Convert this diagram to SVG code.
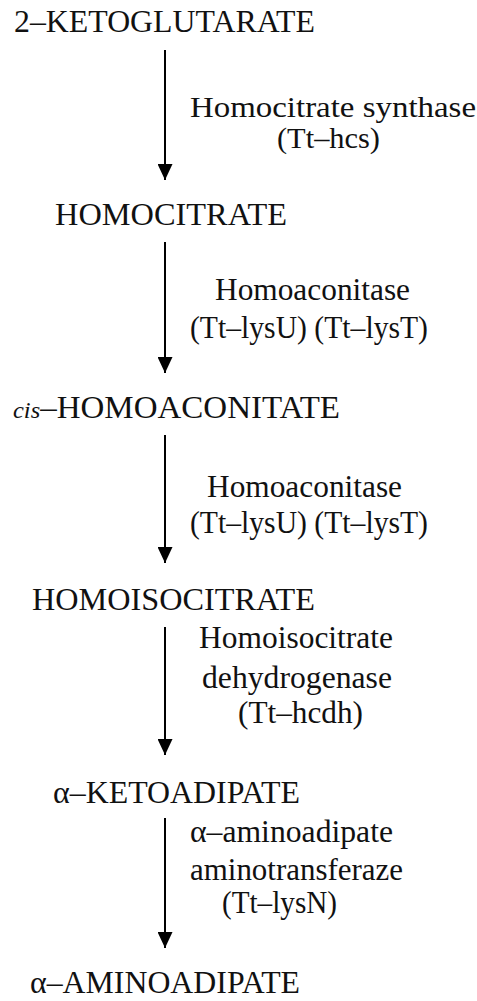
<svg xmlns="http://www.w3.org/2000/svg" width="477" height="1001" viewBox="0 0 477 1001">
<style>
.t{fill:#111}
.c line{stroke:#000;stroke-width:2}
</style>
<defs>
<marker id="ah" viewBox="0 0 16 15" refX="16" refY="7.5" markerWidth="16" markerHeight="15" markerUnits="userSpaceOnUse" orient="auto"><path d="M0,0L16,7.5L0,15Z" fill="#000"/></marker>
</defs>
<rect width="477" height="1001" fill="#fff"/>
<g class="t" font-family="Liberation Serif" font-size="31">
<g id="n1"><text x="14" y="32" textLength="301" lengthAdjust="spacingAndGlyphs">2–KETOGLUTARATE</text></g>
<g id="n2"><text x="55" y="225" textLength="232" lengthAdjust="spacingAndGlyphs">HOMOCITRATE</text></g>
<g id="n3"><text x="13" y="418" textLength="327" lengthAdjust="spacingAndGlyphs"><tspan font-style="italic" font-size="23">cis</tspan>–HOMOACONITATE</text></g>
<g id="n4"><text x="32" y="610" textLength="283" lengthAdjust="spacingAndGlyphs">HOMOISOCITRATE</text></g>
<g id="n5"><text x="53" y="803" textLength="247" lengthAdjust="spacingAndGlyphs">α–KETOADIPATE</text></g>
<g id="n6"><text x="30" y="993" textLength="270" lengthAdjust="spacingAndGlyphs">α–AMINOADIPATE</text></g>
<g id="e1" font-size="29"><text x="190" y="117" textLength="286" lengthAdjust="spacingAndGlyphs">Homocitrate synthase</text><text x="277" y="148" textLength="103" lengthAdjust="spacingAndGlyphs">(Tt–hcs)</text></g>
<g id="e2"><text x="215" y="300" textLength="195" lengthAdjust="spacingAndGlyphs">Homoaconitase</text><text x="190" y="338" textLength="238" lengthAdjust="spacingAndGlyphs">(Tt–lysU) (Tt–lysT)</text></g>
<g id="e3"><text x="207" y="497" textLength="195" lengthAdjust="spacingAndGlyphs">Homoaconitase</text><text x="190" y="533" textLength="238" lengthAdjust="spacingAndGlyphs">(Tt–lysU) (Tt–lysT)</text></g>
<g id="e4"><text x="199" y="648" textLength="194" lengthAdjust="spacingAndGlyphs">Homoisocitrate</text><text x="202" y="688" textLength="190" lengthAdjust="spacingAndGlyphs">dehydrogenase</text><text x="238" y="723" textLength="125" lengthAdjust="spacingAndGlyphs">(Tt–hcdh)</text></g>
<g id="e5"><text x="190" y="842" textLength="203" lengthAdjust="spacingAndGlyphs">α–aminoadipate</text><text x="190" y="880" textLength="213" lengthAdjust="spacingAndGlyphs">aminotransferaze</text><text x="222" y="913" textLength="115" lengthAdjust="spacingAndGlyphs">(Tt–lysN)</text></g>
</g>
<g class="c" id="connectors">
<line x1="165" y1="50" x2="165" y2="180" marker-end="url(#ah)"/>
<line x1="165" y1="242" x2="165" y2="373" marker-end="url(#ah)"/>
<line x1="165" y1="435" x2="165" y2="563" marker-end="url(#ah)"/>
<line x1="165" y1="627" x2="165" y2="755" marker-end="url(#ah)"/>
<line x1="165" y1="818" x2="165" y2="948" marker-end="url(#ah)"/>
</g>
</svg>
